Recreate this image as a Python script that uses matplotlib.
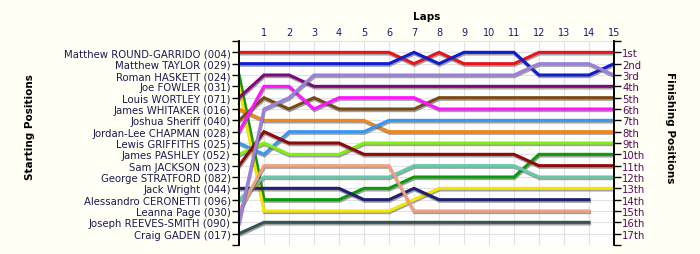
import matplotlib
matplotlib.use("Agg")
import matplotlib.pyplot as plt
import matplotlib.patheffects as pe

drivers = [
    "Matthew ROUND-GARRIDO (004)", "Matthew TAYLOR (029)", "Roman HASKETT (024)",
    "Joe FOWLER (031)", "Louis WORTLEY (071)", "James WHITAKER (016)",
    "Joshua Sheriff (040)", "Jordan-Lee CHAPMAN (028)", "Lewis GRIFFITHS (025)",
    "James PASHLEY (052)", "Sam JACKSON (023)", "George STRATFORD (082)",
    "Jack Wright (044)", "Alessandro CERONETTI (096)", "Leanna Page (030)",
    "Joseph REEVES-SMITH (090)", "Craig GADEN (017)",
]
finish_labels = ["1st", "2nd", "3rd", "4th", "5th", "6th", "7th", "8th", "9th",
                 "10th", "11th", "12th", "13th", "14th", "15th", "16th", "17th"]
laps = list(range(0, 16))

# position of each car at lap 0..15 (None = no longer running)
red = [1, 1, 1, 1, 1, 1, 1, 2, 1, 2, 2, 2, 1, 1, 1, 1]
blue = [2, 2, 2, 2, 2, 2, 2, 1, 2, 1, 1, 1, 3, 3, 3, 2]
green = [3, 14, 14, 14, 14, 13, 13, 12, 12, 12, 12, 12, 10, 10, 10, 10]
yellow = [4, 15, 15, 15, 15, 15, 15, 14, 13, 13, 13, 13, 13, 13, 13, 13]
purple = [5, 3, 3, 4, 4, 4, 4, 4, 4, 4, 4, 4, 4, 4, 4, 4]
orange = [6, 7, 7, 7, 7, 7, 8, 8, 8, 8, 8, 8, 8, 8, 8, 8]
brown = [7, 5, 6, 5, 6, 6, 6, 6, 5, 5, 5, 5, 5, 5, 5, 5]
magenta = [8, 4, 4, 6, 5, 5, 5, 5, 6, 6, 6, 6, 6, 6, 6, 6]
skyblue = [9, 10, 8, 8, 8, 8, 7, 7, 7, 7, 7, 7, 7, 7, 7, 7]
lime = [10, 9, 10, 10, 10, 9, 9, 9, 9, 9, 9, 9, 9, 9, 9, 9]
darkred = [11, 8, 9, 9, 9, 10, 10, 10, 10, 10, 10, 10, 11, 11, 11, 11]
navy = [13, 13, 13, 13, 13, 14, 14, 13, 14, 14, 14, 14, 14, 14, 14, None]
aqua = [14, 12, 12, 12, 12, 12, 12, 11, 11, 11, 11, 11, 12, 12, 12, 12]
salmon = [15, 11, 11, 11, 11, 11, 11, 15, 15, 15, 15, 15, 15, 15, 15, None]
lavender = [16, 6, 5, 3, 3, 3, 3, 3, 3, 3, 3, 3, 2, 2, 2, 3]
slate = [17, 16, 16, 16, 16, 16, 16, 16, 16, 16, 16, 16, 16, 16, 16, None]

series = [
    (red, "#e8141c"), (blue, "#0f1ccf"), (green, "#0a9a0a"), (yellow, "#f5e600"),
    (purple, "#7a0a7a"), (orange, "#f08518"), (brown, "#7a4a14"),
    (magenta, "#ff14ff"), (skyblue, "#3896f0"), (lime, "#80ee10"),
    (darkred, "#8c0a0a"), (navy, "#20206e"), (aqua, "#66c8a8"),
    (salmon, "#f0a080"), (lavender, "#9a80d8"), (slate, "#3a5252"),
]

bg = "#fffff5"
fig = plt.figure(figsize=(7, 2.55), dpi=100, facecolor=bg)
ax = fig.add_axes([239 / 700, 1 - 246 / 255, 375 / 700, 204 / 255])
ax.set_facecolor("white")

for values, color in series:
    xs = [l for l, v in zip(laps, values) if v is not None]
    ys = [v for v in values if v is not None]
    ax.plot(xs, ys, color=color, lw=2.2, solid_joinstyle="miter",
            path_effects=[pe.SimpleLineShadow(offset=(0.4, -1.2), shadow_color="#555555", alpha=0.55),
                          pe.Normal()])

ax.set_xlim(0, 15)
ax.set_ylim(18, 0)

ax.set_xticks(range(1, 16))
ax.xaxis.tick_top()
ax.tick_params(axis="x", length=0, pad=3, labelsize=7, labelcolor="#1a1a6a")
ax.set_xlabel("Laps", fontsize=7.5, fontweight="bold", labelpad=6)
ax.xaxis.set_label_position("top")

ax.set_yticks(range(0, 19))
ax.set_yticklabels([""] + drivers + [""])
ax.tick_params(axis="y", length=5, width=1, pad=1, labelsize=7.3, labelcolor="#1a1a50")

ax2 = ax.twinx()
ax2.set_ylim(18, 0)
ax2.set_yticks(range(0, 19))
ax2.set_yticklabels([""] + finish_labels + [""])
ax2.tick_params(axis="y", length=5, width=1, pad=1, labelsize=7.3, labelcolor="#5a0a5a")

for a in (ax, ax2):
    a.spines["top"].set_visible(False)
    a.spines["bottom"].set_visible(False)
    a.spines["left"].set_linewidth(1.2)
    a.spines["right"].set_linewidth(1.2)

ax.grid(True, color="#e2e2e2", lw=0.8)
ax.set_axisbelow(True)

fig.text(30 / 700, 0.5, "Starting Positions", rotation=90, ha="center", va="center",
         fontsize=7.5, fontweight="bold")
fig.text(670 / 700, 0.5, "Finishing Positions", rotation=270, ha="center", va="center",
         fontsize=7.5, fontweight="bold")

fig.savefig("out.png", dpi=100, facecolor=bg)
